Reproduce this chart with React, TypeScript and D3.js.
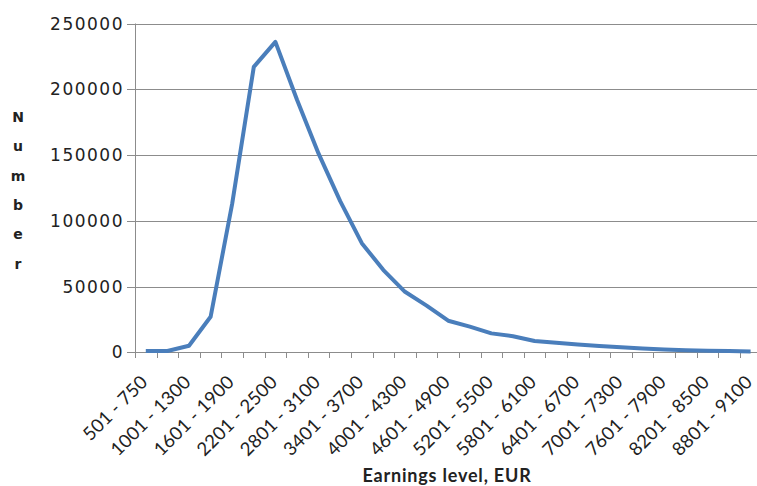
import * as d3 from "d3";
import React, { useEffect, useRef } from "react";

// earnings bands, EUR (every other one is labelled on the axis)
const categories = [
  "501 - 750", "751 - 1000", "1001 - 1300", "1301 - 1600", "1601 - 1900",
  "1901 - 2200", "2201 - 2500", "2501 - 2800", "2801 - 3100", "3101 - 3400",
  "3401 - 3700", "3701 - 4000", "4001 - 4300", "4301 - 4600", "4601 - 4900",
  "4901 - 5200", "5201 - 5500", "5501 - 5800", "5801 - 6100", "6101 - 6400",
  "6401 - 6700", "6701 - 7000", "7001 - 7300", "7301 - 7600", "7601 - 7900",
  "7901 - 8200", "8201 - 8500", "8501 - 8800", "8801 - 9100",
];

const numbers = [
  1000, 1000, 5000, 27000, 113000, 217000, 236000, 192000, 151000, 115000,
  83000, 62500, 46000, 35500, 24000, 19500, 14400, 12200, 8600, 7200,
  6000, 4800, 3800, 2800, 2100, 1500, 1100, 900, 700,
];

const yTicks = [0, 50000, 100000, 150000, 200000, 250000];
const yTitle = "Number";
const xTitle = "Earnings level, EUR";

const width = 757;
const height = 486;

const App: React.FC = () => {
  const svgRef = useRef<SVGSVGElement>(null);

  useEffect(() => {
    if (!svgRef.current) return;
    const margin = { top: 23.5, left: 135, bottom: 352.3 };
    const step = 21.6;

    const svg = d3.select(svgRef.current);
    svg.selectAll("*").remove();

    const x = d3
      .scaleBand<string>()
      .domain(categories)
      .range([margin.left, margin.left + step * categories.length])
      .padding(0);

    const y = d3
      .scaleLinear()
      .domain([0, 250000])
      .range([margin.bottom, margin.top]);

    const right = margin.left + step * categories.length;
    const gray = "#8c8c8c";

    // grid lines + y ticks
    svg
      .append("g")
      .selectAll("line")
      .data(yTicks)
      .join("line")
      .attr("x1", margin.left - 8)
      .attr("x2", right)
      .attr("y1", (d) => Math.round(y(d)) + 0.5)
      .attr("y2", (d) => Math.round(y(d)) + 0.5)
      .attr("stroke", gray)
      .attr("stroke-width", 1);

    svg
      .append("g")
      .selectAll("text")
      .data(yTicks)
      .join("text")
      .attr("x", 124)
      .attr("y", (d) => y(d))
      .attr("dy", "0.36em")
      .attr("text-anchor", "end")
      .attr("font-family", "DejaVu Sans")
      .attr("font-size", 17)
      .attr("letter-spacing", 1.5)
      .attr("fill", "#222")
      .text((d) => String(d));

    // y axis line
    svg
      .append("line")
      .attr("x1", margin.left + 0.5)
      .attr("x2", margin.left + 0.5)
      .attr("y1", margin.top)
      .attr("y2", margin.bottom)
      .attr("stroke", gray);

    // x axis ticks at band edges
    const edges = categories.map((c) => x(c) as number).concat([right]);
    svg
      .append("g")
      .selectAll("line")
      .data(edges)
      .join("line")
      .attr("x1", (d) => Math.round(d) + 0.5)
      .attr("x2", (d) => Math.round(d) + 0.5)
      .attr("y1", Math.round(margin.bottom))
      .attr("y2", Math.round(margin.bottom) + 6)
      .attr("stroke", gray);

    // x labels (every other band)
    svg
      .append("g")
      .selectAll("text")
      .data(categories.filter((_, i) => i % 2 === 0))
      .join("text")
      .attr(
        "transform",
        (d) =>
          `translate(${(x(d) as number) + x.bandwidth() / 2 + 3},${margin.bottom + 31}) rotate(-45)`,
      )
      .attr("text-anchor", "end")
      .attr("font-family", "Lato")
      .attr("font-size", 18.5)
      .attr("letter-spacing", 0.2)
      .attr("fill", "#222")
      .text((d) => d);

    // line
    const line = d3
      .line<number>()
      .x((_, i) => (x(categories[i]) as number) + x.bandwidth() / 2)
      .y((d) => y(d));

    svg
      .append("path")
      .datum(numbers)
      .attr("fill", "none")
      .attr("stroke", "#4a7ebb")
      .attr("stroke-width", 4)
      .attr("stroke-linejoin", "round")
      .attr("d", line);

    // axis titles
    svg
      .append("text")
      .attr("x", 447)
      .attr("y", 482)
      .attr("text-anchor", "middle")
      .attr("font-family", "Lato")
      .attr("font-weight", "bold")
      .attr("font-size", 18)
      .attr("letter-spacing", 0.8)
      .attr("fill", "#222")
      .text(xTitle);

    svg
      .append("g")
      .selectAll("text")
      .data(yTitle.split(""))
      .join("text")
      .attr("x", 18)
      .attr("y", (_, i) => 117 + i * 29.3)
      .attr("dy", "0.36em")
      .attr("text-anchor", "middle")
      .attr("font-family", "DejaVu Sans")
      .attr("font-weight", "bold")
      .attr("font-size", 14)
      .attr("fill", "#222")
      .text((d) => d);
  }, []);

  return (
    <svg
      ref={svgRef}
      width={width}
      height={height}
      style={{ position: "absolute", left: 0, top: 0, background: "#fff" }}
    />
  );
};

export default App;
